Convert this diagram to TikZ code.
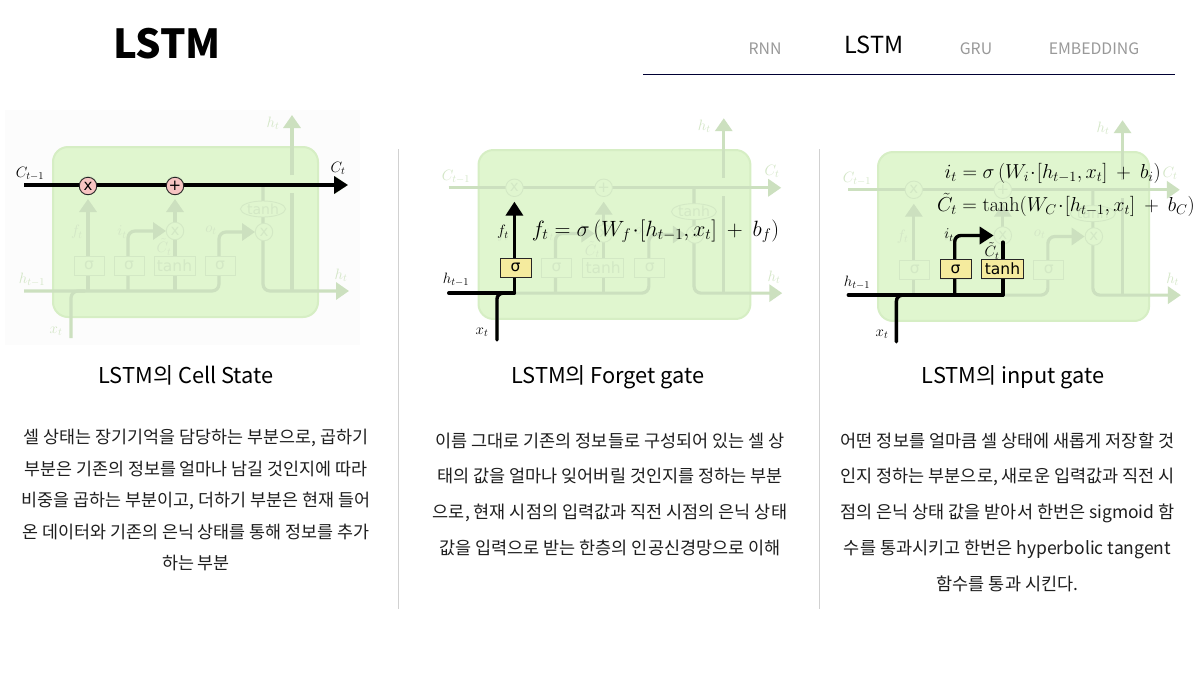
\RequirePackage{fix-cm}
\documentclass[tikz,border=0pt]{standalone}
\usepackage[no-math]{fontspec}
\usepackage{amsmath}
\setmainfont{Noto Sans CJK KR}
\newfontfamily\djsans{DejaVu Sans}
\usetikzlibrary{arrows.meta,shapes.geometric}
\definecolor{faintline}{HTML}{CCE0BF}
\definecolor{faintbox}{HTML}{D3E8C5}
\definecolor{faintlabel}{HTML}{D3E6C6}
\definecolor{cellfill}{HTML}{E0F6CF}
\definecolor{celledge}{HTML}{D6EEC4}
\definecolor{gatefill}{HTML}{F5EB9E}
\definecolor{opfill}{HTML}{F7C4C2}
\definecolor{navgray}{HTML}{999999}
\definecolor{bodytext}{HTML}{1E1E1E}
\tikzset{
  x=1pt,y=-1pt,
  faint/.style={draw=faintline,line width=3.2pt,rounded corners=7pt},
  faintarr/.style={faint,-{Triangle[length=13pt,width=17pt]}},
  hot/.style={draw=black,line width=3.4pt,rounded corners=6pt,line cap=round},
  hotarr/.style={hot,line cap=butt,-{Triangle[length=14pt,width=17pt]}},
  fbox/.style={draw=faintbox,line width=.9pt,minimum height=19pt,inner sep=0pt,text=faintbox,font=\djsans\fontsize{15.5}{15.5}\selectfont},
  fcirc/.style={circle,draw=faintbox,line width=.9pt,fill=cellfill,minimum size=17.5pt,inner sep=0pt,text=faintbox,font=\djsans\fontsize{15}{15}\selectfont},
  gatebox/.style={draw=black!85,line width=.9pt,fill=gatefill,minimum height=19pt,inner sep=0pt,text=black,font=\djsans\fontsize{15.5}{15.5}\selectfont},
  opcirc/.style={circle,draw=black!85,line width=.9pt,fill=opfill,minimum size=17.5pt,inner sep=0pt,text=black,font=\djsans\fontsize{15}{15}\selectfont},
  flabel/.style={text=faintlabel,inner sep=0pt,font=\fontsize{15}{16}\selectfont},
  hlabel/.style={text=black,inner sep=0pt,font=\fontsize{15}{16}\selectfont},
  head/.style={font=\fontsize{21.8}{24}\selectfont,text=black,inner sep=0pt},
  bodyp/.style={align=center,text=bodytext,inner sep=0pt},
  navoff/.style={font=\fontsize{15.8}{18}\selectfont,text=navgray,inner sep=0pt},
}
\newcommand{\lstmcell}[5]{%
 \begin{scope}[shift={(#2,#3)},xscale=#4,yscale=#5]
  \path[draw=celledge,fill=cellfill,line width=2pt,rounded corners=15pt] (0,0) rectangle (265,170);
  \coordinate (#1cl) at (-29,38); \coordinate (#1cr) at (295,38);
  \coordinate (#1hl) at (-29,144); \coordinate (#1hr) at (296,144);
  \coordinate (#1xb) at (18,191); \coordinate (#1xe) at (32,144);
  \coordinate (#1ta) at (35,52); \coordinate (#1tb) at (122,52);
  \coordinate (#1hf) at (35,144); \coordinate (#1hi) at (75,144); \coordinate (#1hc) at (122,144);
  \coordinate (#1hoa) at (150,144); \coordinate (#1ob) at (166,112);
  \coordinate (#1ct) at (210,38);
  \coordinate (#1yb) at (239,144); \coordinate (#1ym) at (239,46); \coordinate (#1yn) at (239,28); \coordinate (#1yt) at (239,-32);
  \draw[faint] (#1hl) -- (#1hoa) -| (#1ob);
  \draw[faint] (#1xb) |- (#1xe);
  \draw[faintarr] (#1hf) -- (#1ta);
  \draw[faintarr] (#1hi) |- (113,84);
  \draw[faintarr] (#1hc) -- (#1tb);
  \draw[faintarr] (#1ob) |- (202,85);
  \draw[faintarr] (#1ct) |- (#1hr);
  \draw[faint] (#1yb) -- (#1ym);
  \draw[faintarr] (#1yn) -- (#1yt);
  \draw[faintarr] (#1cl) -- (#1cr);
  \node[fcirc] (#1mul) at (35,38) {x};
  \node[fcirc] (#1add) at (122,38) {+};
  \node[fcirc] (#1mi) at (122,84) {x};
  \node[fcirc] (#1mo) at (211,85) {x};
  \node[fbox,minimum width=30pt,fill=cellfill] (#1sf) at (36,118.5) {σ};
  \node[fbox,minimum width=30pt,fill=cellfill] (#1si) at (76,118.5) {σ};
  \node[fbox,minimum width=41pt,fill=cellfill] (#1st) at (121.5,118.5) {tanh};
  \node[fbox,minimum width=30pt,fill=cellfill] (#1so) at (167,118.5) {σ};
  \node[ellipse,draw=faintbox,line width=.9pt,fill=cellfill,minimum width=42pt,minimum height=16pt,inner sep=0pt,text=faintbox,font=\djsans\fontsize{14}{14}\selectfont] (#1el) at (210,62) {tanh};
 \end{scope}}
\newcommand{\lstmlabels}[4]{%
 \begin{scope}[shift={(#1,#2)},xscale=#3,yscale=#4]
  \node[flabel] (lb#1a) at (220,-24) {$h_t$};
  \node[flabel] (lb#1b) at (24,85) {$f_t$};
  \node[flabel] (lb#1c) at (69,85) {$i_t$};
  \node[flabel] (lb#1d) at (111,100) {$\tilde C_t$};
  \node[flabel] (lb#1e) at (158,83) {$o_t$};
  \node[flabel] (lb#1f) at (288,128) {$h_t$};
 \end{scope}}
\begin{document}
\begin{tikzpicture}
\useasboundingbox (0,0) rectangle (1198,673);
\fill[white] (0,0) rectangle (1198,673);
\fill[black!1] (5,110) rectangle (360,345);

% header
\node[anchor=center,inner sep=0pt,font=\fontsize{40}{42}\bfseries\selectfont] (title) at (167,44) {LSTM};
\node[navoff] (n1) at (765,49) {RNN};
\node[inner sep=0pt,font=\fontsize{23.5}{26}\selectfont] (n2) at (874,45) {LSTM};
\node[navoff] (n3) at (976,49) {GRU};
\node[navoff] (n4) at (1094,49) {EMBEDDING};
\coordinate (rl) at (643,74); \coordinate (rr) at (1175,74);
\draw[draw=black!80!blue,line width=1pt] (rl) -- (rr);

% separators
\coordinate (s1a) at (398,149); \coordinate (s1b) at (398,609);
\coordinate (s2a) at (819,149); \coordinate (s2b) at (819,609);
\draw[black!18,line width=1pt] (s1a) -- (s1b);
\draw[black!18,line width=1pt] (s2a) -- (s2b);

% panel 1
\lstmcell{a}{53}{147}{1}{1}
\lstmlabels{53}{147}{1}{1}
\draw[hotarr] (acl) -- (acr);
\node[opcirc] (ap) at (175,186) {+};
\node[opcirc] (am) at (88,186) {x};
\node[hlabel] (alc) at (30,174) {$C_{t-1}$};
\node[hlabel] (alct) at (338,168) {$C_t$};
\node[flabel] (alh) at (32,280) {$h_{t-1}$};
\node[flabel] (alx) at (56,331) {$x_t$};
\node[head] (ah) at (186,375.5) {LSTM의 Cell State};
\node[bodyp,font=\fontsize{17.4}{31.5}\selectfont] (ab) at (196,500) {셀 상태는 장기기억을 담당하는 부분으로, 곱하기\\부분은 기존의 정보를 얼마나 남길 것인지에 따라\\비중을 곱하는 부분이고, 더하기 부분은 현재 들어\\온 데이터와 기존의 은닉 상태를 통해 정보를 추가\\하는 부분};

% panel 2
\lstmcell{b}{478.5}{150}{1.026}{.994}
\lstmlabels{478.5}{150}{1.026}{.994}
\node[flabel] (bct) at (456,177) {$C_{t-1}$};
\node[flabel] (bctt) at (772,171) {$C_t$};
\draw[hot] (bhl) -- (bhf);
\draw[hot] (bxb) |- (bxe);
\draw[hotarr] (bhf) -- (bta);
\node[gatebox,minimum width=31pt] (bg) at (515.5,267.5) {σ};
\node[hlabel] (bl1) at (503,232) {$f_t$};
\node[hlabel] (bl2) at (456,280) {$h_{t-1}$};
\node[hlabel] (bl3) at (482,332) {$x_t$};
\node[inner sep=0pt,font=\fontsize{22.1}{24}\selectfont] (bf) at (655.5,231) {$f_t=\sigma\left(W_f\!\cdot\![h_{t-1},x_t]\ +\ b_f\right)$};
\node[head] (bh) at (608,377) {LSTM의 Forget gate};
\node[bodyp,font=\fontsize{17.5}{35.7}\selectfont] (bb) at (610,494) {이름 그대로 기존의 정보들로 구성되어 있는 셀 상\\태의 값을 얼마나 잊어버릴 것인지를 정하는 부분\\으로, 현재 시점의 입력값과 직전 시점의 은닉 상태\\값을 입력으로 받는 한층의 인공신경망으로 이해};

% panel 3
\lstmcell{c}{878}{152}{1.023}{.994}
\lstmlabels{878}{152}{1.023}{.994}
\node[flabel] (cct) at (857,179) {$C_{t-1}$};
\node[flabel] (cctt) at (1170,173) {$C_t$};
\draw[hot] (chl) -- (chc);
\draw[hot] (cxb) |- (cxe);
\draw[hotarr] (chi) |- (cmi.west);
\draw[hot] (chc) -- ++(0,-53);
\node[gatebox,minimum width=31pt] (cg1) at (955.5,269) {σ};
\node[gatebox,minimum width=42pt] (cg2) at (1002.5,269) {tanh};
\node[hlabel] (cl1) at (949,235) {$i_t$};
\node[hlabel] (cl2) at (992,251) {$\tilde C_t$};
\node[hlabel] (cl3) at (857,283) {$h_{t-1}$};
\node[hlabel] (cl4) at (882,334) {$x_t$};
\node[inner sep=0pt,anchor=east,font=\fontsize{20.2}{22}\selectfont] (cf1) at (1161,173) {$i_t=\sigma\left(W_i\!\cdot\![h_{t-1},x_t]\ +\ b_i\right)$};
\node[inner sep=0pt,anchor=east,font=\fontsize{20.2}{22}\selectfont] (cf2) at (1195,205) {$\tilde C_t=\tanh(W_C\!\cdot\![h_{t-1},x_t]\ +\ b_C)$};
\node[head] (ch) at (1013,377) {LSTM의 input gate};
\node[bodyp,font=\fontsize{17.5}{35.7}\selectfont] (cb) at (1007.5,512) {어떤 정보를 얼마큼 셀 상태에 새롭게 저장할 것\\인지 정하는 부분으로, 새로운 입력값과 직전 시\\점의 은닉 상태 값을 받아서 한번은 sigmoid 함\\수를 통과시키고 한번은 hyperbolic tangent\\함수를 통과 시킨다.};
\end{tikzpicture}
\end{document}
